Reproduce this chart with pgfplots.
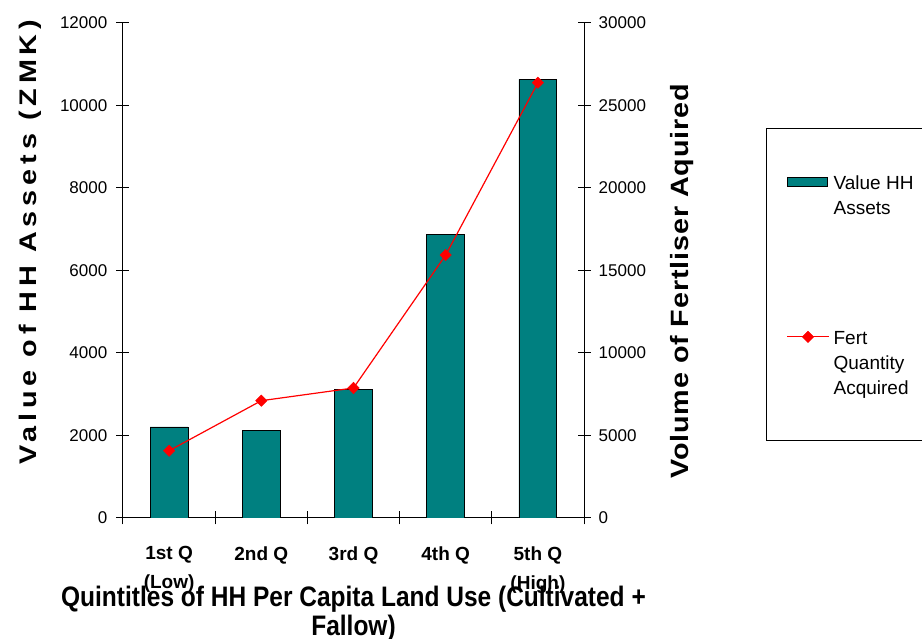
\documentclass[border=0pt]{standalone}
\usepackage{fontspec}
\setmainfont{Liberation Sans}
\usepackage{pgfplots}
\pgfplotsset{compat=1.18}
\definecolor{barteal}{RGB}{0,128,128}
\pgfplotsset{
  barlegend/.style={legend image code/.code={
    \draw[fill=barteal, draw=black, line width=0.8pt] (0pt,28.5pt) rectangle (40pt,37.5pt);}},
  linelegend/.style={legend image code/.code={
    \draw[##1, mark repeat=2, mark phase=2] plot coordinates {(0pt,58pt) (21pt,58pt) (42pt,58pt)};}},
}

\begin{document}
\begin{tikzpicture}
\pgfplotsset{
  every axis/.append style={
    scale only axis, width=461pt, height=495pt,
    at={(0,0)}, anchor=south west,
    xmin=-0.5, xmax=4.5,
    tick align=center, major tick length=13pt, minor tick length=13pt,
    scaled y ticks=false,
    /pgf/number format/assume math mode=true,
    /pgf/number format/1000 sep={},
    tick style={black, line width=1pt},
    axis line style={-, black, line width=1pt},
    yticklabel style={font=\fontsize{17}{20}\selectfont, inner sep=0pt},
  }
}
% bars, left axis
\begin{axis}[name=ax,
  axis x line*=bottom, axis y line*=left,
  ymin=0, ymax=12000, ytick={0,2000,...,12000},
  yticklabel style={anchor=east, xshift=-9pt},
  xtick={0,...,4},
  xticklabels={1st Q\\(Low), 2nd Q, 3rd Q, 4th Q, 5th Q\\(High)},
  xticklabel style={font=\bfseries\fontsize{19}{29}\selectfont, align=center,
    anchor=north, inner sep=0pt, yshift=-22pt},
  minor xtick={-0.5,0.5,1.5,2.5,3.5,4.5},
  major x tick style={draw=none},
  xlabel={\scalebox{1}[1.15]{\begin{tabular}{@{}c@{}}Quintitles of HH Per Capita Land Use (Cultivated +\\Fallow)\end{tabular}}},
  xlabel style={at={(axis description cs:0.5,-0.1374)}, anchor=north,
    inner sep=0pt, font=\bfseries\fontsize{24.5}{24.5}\selectfont},
  ylabel={\scalebox{1.2}[1]{\addfontfeatures{LetterSpace=17}Value of HH Assets (ZMK)}},
  ylabel style={at={(axis description cs:-0.1866,0.557)}, anchor=base,
    inner sep=0pt, font=\bfseries\fontsize{24}{28}\selectfont},
]
\addplot[ybar, bar width=0.41, fill=barteal, draw=black, line width=0.8pt]
  coordinates {(0,2206) (1,2126) (2,3120) (3,6878) (4,10635)};
\end{axis}
% line, right axis
\begin{axis}[
  axis y line*=right, hide x axis,
  ymin=0, ymax=30000, ytick={0,5000,...,30000},
  yticklabel style={anchor=west, xshift=8pt},
  ylabel={\scalebox{1.15}[1]{\addfontfeatures{LetterSpace=3}Volume of Fertliser Aquired}},
  ylabel style={at={(axis description cs:1.2256,0.478)}, anchor=base,
    inner sep=0pt, font=\bfseries\fontsize{25}{28}\selectfont},
  legend style={at={(axis description cs:1.3948,0.7879)}, anchor=north west,
    draw=black, line width=0.8pt, inner xsep=20pt, inner ysep=42pt,
    font=\fontsize{19}{25}\selectfont, cells={anchor=base west},
    row sep=107pt, column sep=2pt},
]
\addlegendimage{barlegend}
\addlegendentry{\begin{tabular}[b]{@{}l@{}}Value HH\\Assets\end{tabular}}
\addplot[red, line width=1.2pt, mark=square*, mark size=4pt,
  mark options={rotate=45, fill=red, draw=red, line width=0.5pt}, linelegend]
  coordinates {(0,4079) (1,7109) (2,7879) (3,15939) (4,26382)};
\addlegendentry{\begin{tabular}[b]{@{}l@{}}Fert\\Quantity\\Acquired\end{tabular}}
\end{axis}
\pgfresetboundingbox
\path ([shift={(-123pt,-121pt)}]ax.south west) rectangle ([shift={(799pt,518pt)}]ax.south west);
\end{tikzpicture}
\end{document}
